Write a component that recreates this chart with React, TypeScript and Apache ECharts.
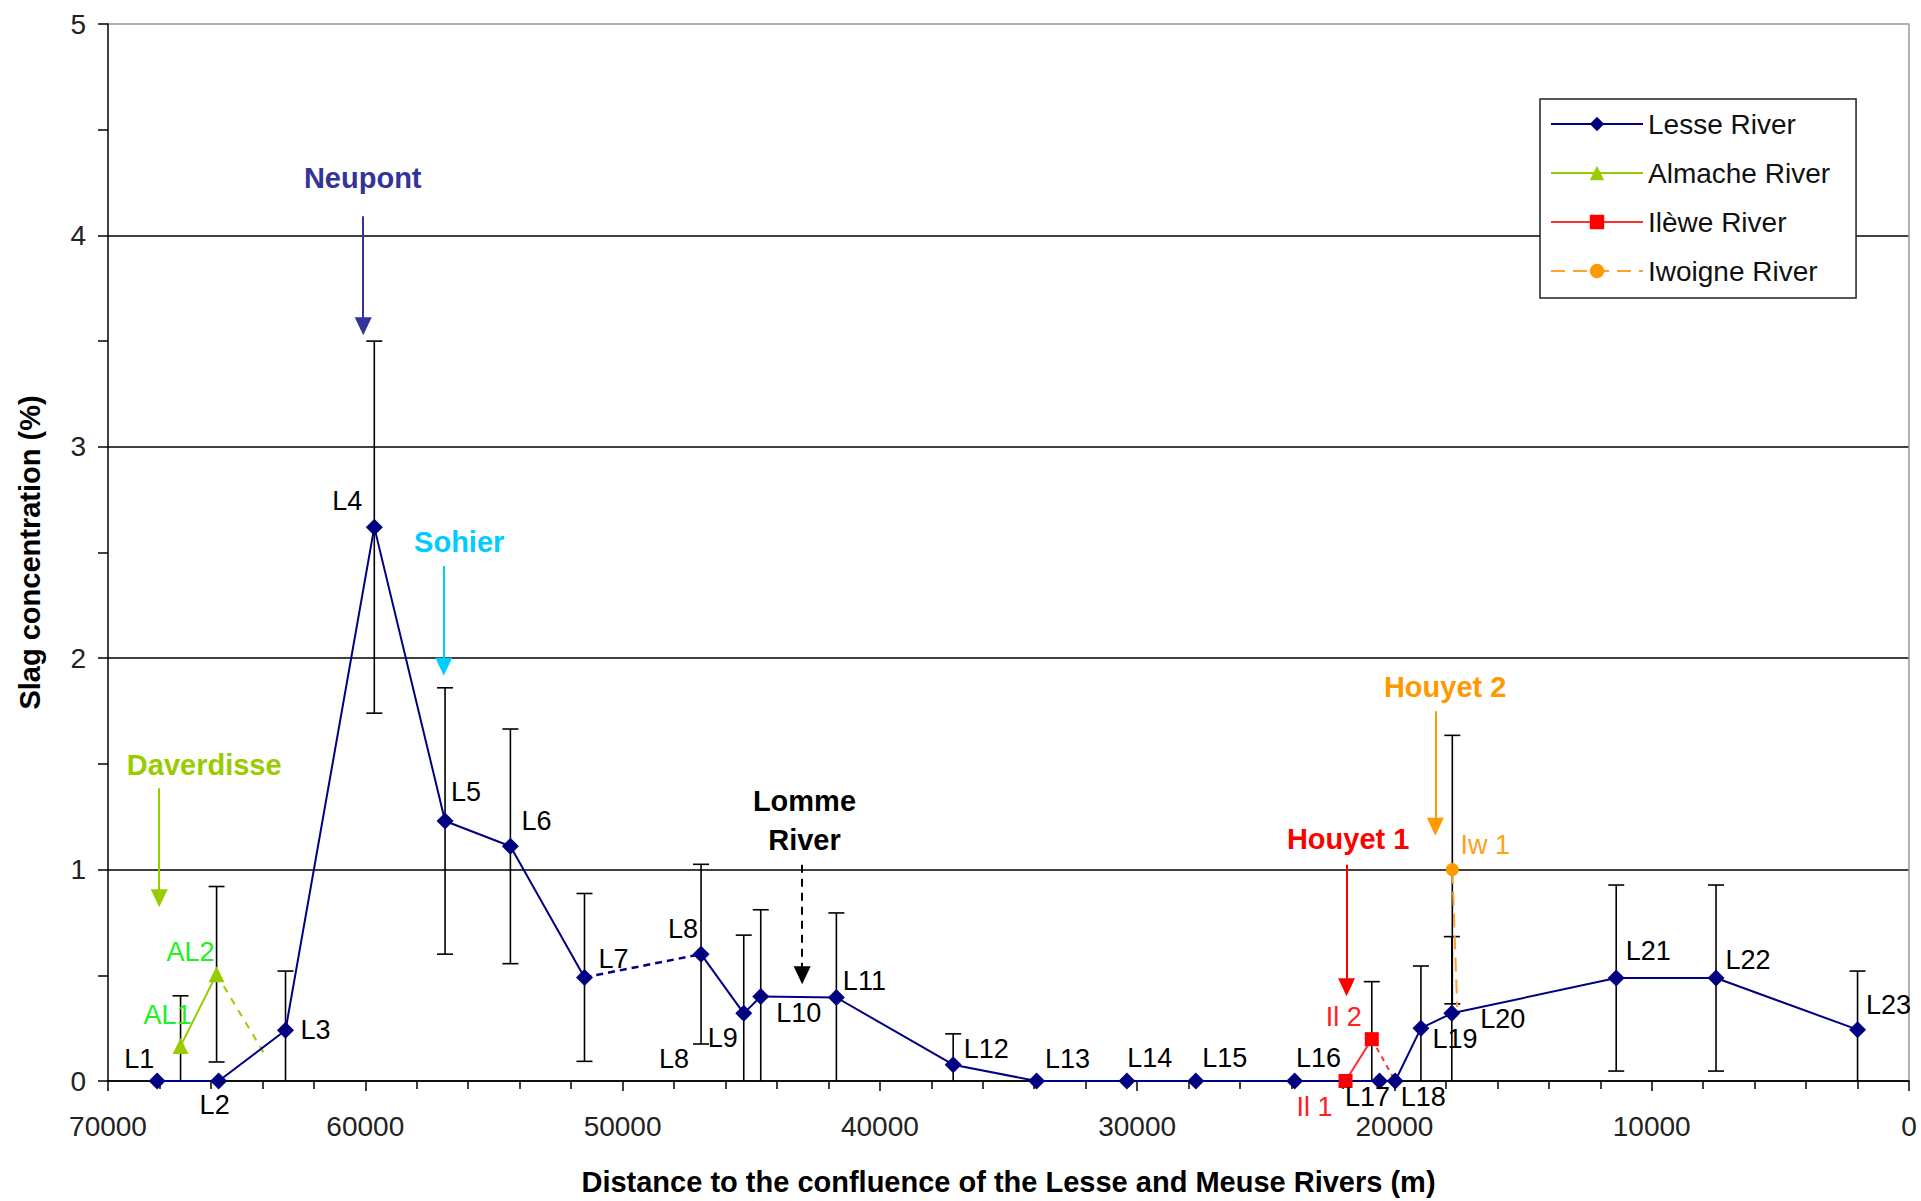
import React, { useEffect, useRef } from "react";
import * as echarts from "echarts";

// ---------- data ----------
const lesseNames = ["L1","L2","L3","L4","L5","L6","L7","L8","L9","L10","L11","L12","L13","L14","L15","L16","L17","L18","L19","L20","L21","L22","L23"];
const lesseDist = [68090, 65700, 63100, 59650, 56900, 54360, 51480, 46950, 45290, 44630, 41690, 37150, 33910, 30400, 27720, 23880, 20580, 19970, 18970, 17770, 11380, 7500, 2000];
const lesseSlag = [0, 0, 0.24, 2.62, 1.23, 1.11, 0.49, 0.6, 0.32, 0.4, 0.395, 0.077, 0, 0, 0, 0, 0, 0, 0.25, 0.32, 0.487, 0.487, 0.243];
const lesseErr = [null, null, 0.28, 0.88, 0.63, 0.555, 0.397, 0.425, 0.37, 0.41, 0.4, 0.146, null, null, null, null, null, null, 0.294, 0.363, 0.44, 0.44, 0.277];

const almacheNames = ["AL1", "AL2"];
const almacheDist = [67180, 65780];
const almacheSlag = [0.165, 0.505];
const almacheErr = [0.238, 0.415];
const almacheJoin = [63950, 0.135];

const ileweNames = ["Il 1", "Il 2"];
const ileweDist = [21900, 20880];
const ileweSlag = [0, 0.198];
const ileweErr = [null, 0.272];
const ileweJoin = [19970, 0];

const iwoigneNames = ["Iw 1"];
const iwoigneDist = [17750];
const iwoigneSlag = [1.0];
const iwoigneErr = [0.635];
const iwoigneJoin = [17560, 0.35];

const noteTexts = ["Neupont", "Sohier", "Daverdisse", "Lomme\nRiver", "Houyet 1", "Houyet 2"];
const noteX = [60100, 56350, 66260, 42930, 21800, 18030];
const noteY = [4.27, 2.55, 1.495, 1.23, 1.147, 1.865];
const arrowX = [60080, 56950, 68010, 43020, 21860, 18410];
const arrowFrom = [4.09, 2.436, 1.385, 1.023, 1.023, 1.749];
const arrowTo = [3.57, 1.96, 0.864, 0.5, 0.444, 1.203];

const strayLabel = "L8";
const strayPos = [48000, 0.105];

const xTicks = { min: 0, max: 70000, interval: 10000 };
const yTicks = { min: 0, max: 5, interval: 0.5 };

// ---------- styles ----------
const FONT = "'Liberation Sans', Arial, sans-serif";
const LESSE = "#000080";
const ALM = "#99CC00";
const ILE = "#FF0000";
const IWO = "#FF9900";
const noteColors = ["#333399", "#00CCFF", "#99CC00", "#000000", "#FF0000", "#FF9900"];
const arrowDash = [false, false, false, true, false, false];
const ySplitColors = ["#000", "transparent", "#000", "transparent", "#000", "transparent", "#000", "transparent", "#000", "transparent", "#999"];

const lesseLabelOffset = [[-18,-22],[-4,24],[30,0],[-27,-26],[21,-29],[26,-25],[29,-18],[-18,-25],[-21,25],[38,17],[28,-16],[33,-16],[31,-22],[23,-23],[29,-23],[24,-23],[-12,16],[28,16],[34,11],[51,6],[32,-27],[32,-18],[31,-25]];
const almacheLabelOffset = [[-13,-31],[-26,-22]];
const ileweLabelOffset = [[-31,26],[-28,-22]];
const iwoigneLabelOffset = [[33,-25]];

function pointLabel(text: string, off: number[], color: string) {
  return {
    show: true,
    position: "inside",
    offset: off,
    formatter: text,
    color,
    fontSize: 27,
    fontFamily: FONT,
    align: "center",
    verticalAlign: "middle",
  };
}

function pts(names: string[], dist: number[], slag: number[], offs: number[][], color: string) {
  return dist.map((d, i) => ({ value: [d, slag[i]], label: pointLabel(names[i], offs[i], color) }));
}

function errRows() {
  const rows: number[][] = [];
  const add = (dist: number[], slag: number[], err: (number | null)[]) => {
    dist.forEach((d, i) => {
      const e = err[i];
      if (e == null) return;
      rows.push([d, Math.max(0, slag[i] - e), slag[i] + e]);
    });
  };
  add(lesseDist, lesseSlag, lesseErr);
  add(almacheDist, almacheSlag, almacheErr);
  add(ileweDist, ileweSlag, ileweErr);
  add(iwoigneDist, iwoigneSlag, iwoigneErr);
  return rows;
}

export default function App() {
  const ref = useRef<HTMLDivElement>(null);
  useEffect(() => {
    document.body.style.margin = "0";
    const chart = echarts.init(ref.current!, null, { renderer: "svg" });

    const lesseAll = pts(lesseNames, lesseDist, lesseSlag, lesseLabelOffset, "#000");
    const lesseA = lesseAll.slice(0, 7);
    const lesseB = lesseAll.slice(7);
    const lesseDash = [[lesseDist[6], lesseSlag[6]], [lesseDist[7], lesseSlag[7]]];

    const almPts = pts(almacheNames, almacheDist, almacheSlag, almacheLabelOffset, "#22EE22");
    const ilePts = pts(ileweNames, ileweDist, ileweSlag, ileweLabelOffset, "#FF2020");
    const iwoPts = pts(iwoigneNames, iwoigneDist, iwoigneSlag, iwoigneLabelOffset, "#FFA020");

    const noteData: any[] = noteTexts.map((t, i) => ({
      value: [noteX[i], noteY[i]],
      label: {
        show: true,
        position: "inside",
        formatter: t,
        color: noteColors[i],
        fontSize: 29,
        fontWeight: "bold",
        fontFamily: FONT,
        lineHeight: 39,
        align: "center",
        verticalAlign: "middle",
      },
    }));
    noteData.push({
      value: strayPos,
      label: {
        show: true, position: "inside", formatter: strayLabel, color: "#000", fontSize: 27,
        fontWeight: "normal", fontFamily: FONT, lineHeight: 30, align: "center", verticalAlign: "middle",
      },
    });

    const arrows = arrowX.map((x, i) => {
      const ls = { color: noteColors[i], width: 2, type: arrowDash[i] ? [8, 6] : "solid", opacity: 1 };
      return [
        { coord: [x, arrowFrom[i]], lineStyle: ls },
        { coord: [x, arrowTo[i]], lineStyle: ls },
      ];
    });

    const lineBase = (name: string, color: string, symbol: string, size: number) => ({
      type: "line",
      name,
      symbol,
      symbolSize: size,
      showAllSymbol: true,
      itemStyle: { color },
      lineStyle: { color, width: 2 },
      z: 3,
      silent: true,
    });

    const option: any = {
      animation: false,
      backgroundColor: "#fff",
      textStyle: { fontFamily: FONT },
      grid: { left: 108, right: 12, top: 24, bottom: 110 },
      legend: {
        data: ["Lesse River", "Almache River", "Ilèwe River", "Iwoigne River"],
        orient: "vertical",
        left: 1540,
        top: 99,
        backgroundColor: "#fff",
        borderColor: "#222",
        borderWidth: 1.5,
        borderRadius: 0,
        padding: [10, 26, 12, 10],
        itemWidth: 92,
        itemHeight: 18,
        itemGap: 19,
        textStyle: { fontSize: 28, lineHeight: 30, color: "#111", fontFamily: FONT },
        selectedMode: false,
      },
      xAxis: {
        type: "value",
        inverse: true,
        min: xTicks.min,
        max: xTicks.max,
        interval: xTicks.interval,
        name: "Distance to the confluence of the Lesse and Meuse Rivers (m)",
        nameLocation: "middle",
        nameGap: 86,
        nameTextStyle: { fontSize: 29, fontWeight: "bold", color: "#000", fontFamily: FONT },
        axisLine: { onZero: false, lineStyle: { color: "#000", width: 1.5 } },
        axisTick: { show: true, length: 10, lineStyle: { color: "#000", width: 1.5 } },
        minorTick: { show: true, splitNumber: 5, length: 8, lineStyle: { color: "#000", width: 1.5 } },
        axisLabel: { fontSize: 28, color: "#222", margin: 31, fontFamily: FONT, formatter: (v: number) => String(v) },
        splitLine: { show: false },
      },
      yAxis: [
        {
          type: "value",
          position: "left",
          min: yTicks.min,
          max: yTicks.max,
          interval: yTicks.interval,
          name: "Slag concentration (%)",
          nameLocation: "middle",
          nameGap: 64,
          nameTextStyle: { fontSize: 29, fontWeight: "bold", color: "#000", fontFamily: FONT },
          axisLine: { show: true, onZero: false, lineStyle: { color: "#000", width: 1.5 } },
          axisTick: { show: true, inside: false, length: 10, lineStyle: { color: "#000", width: 1.5 } },
          minorTick: { show: false },
          axisLabel: {
            fontSize: 28, color: "#222", margin: 22, fontFamily: FONT,
            formatter: (v: number) => (Math.abs(v - Math.round(v)) < 1e-9 ? String(Math.round(v)) : ""),
          },
          splitLine: { show: true, lineStyle: { color: ySplitColors, width: 1.5 } },
        },
        {
          type: "value",
          position: "right",
          min: yTicks.min,
          max: yTicks.max,
          interval: yTicks.interval,
          axisLine: { show: true, onZero: false, lineStyle: { color: "#999", width: 1.5 } },
          axisTick: { show: false },
          minorTick: { show: false },
          axisLabel: { show: false },
          splitLine: { show: false },
        },
      ],
      series: [
        { ...lineBase("Lesse River", LESSE, "diamond", 17), data: lesseA },
        { ...lineBase("Almache River", ALM, "triangle", 16), data: almPts },
        { ...lineBase("Ilèwe River", ILE, "rect", 14), lineStyle: { color: "#FF3030", width: 2 }, data: ilePts },
        {
          ...lineBase("Iwoigne River", IWO, "circle", 13),
          lineStyle: { color: "#FFA030", width: 2, type: [14, 8] },
          data: [...iwoPts, { value: iwoigneJoin, symbol: "none", label: { show: false } }],
        },
        { ...lineBase("Lesse River", LESSE, "diamond", 17), data: lesseB },
        { ...lineBase("Lesse River", LESSE, "none", 0), lineStyle: { color: LESSE, width: 2.5, type: [7, 5] }, data: lesseDash, z: 2 },
        { ...lineBase("Almache River", ALM, "none", 0), lineStyle: { color: ALM, width: 2, type: [7, 7] }, data: [[almacheDist[1], almacheSlag[1]], almacheJoin], z: 2 },
        { ...lineBase("Ilèwe River", ILE, "none", 0), lineStyle: { color: "#FF3030", width: 2, type: [5, 5] }, data: [[ileweDist[1], ileweSlag[1]], ileweJoin], z: 2 },
        {
          type: "custom",
          name: "errors",
          silent: true,
          z: 1,
          encode: { x: 0, y: [1, 2] },
          data: errRows(),
          renderItem: (params: any, api: any) => {
            const x = api.value(0);
            const lo = api.value(1);
            const hi = api.value(2);
            const top = api.coord([x, hi]);
            const bot = api.coord([x, lo]);
            const hw = 8;
            const style = { stroke: "#000", lineWidth: 1.6, fill: "none" };
            const children: any[] = [
              { type: "line", shape: { x1: top[0], y1: top[1], x2: bot[0], y2: bot[1] }, style },
              { type: "line", shape: { x1: top[0] - hw, y1: top[1], x2: top[0] + hw, y2: top[1] }, style },
            ];
            if (lo > 0) {
              children.push({ type: "line", shape: { x1: bot[0] - hw, y1: bot[1], x2: bot[0] + hw, y2: bot[1] }, style });
            }
            return { type: "group", children };
          },
        },
        {
          type: "scatter",
          name: "notes",
          symbolSize: 0.1,
          itemStyle: { color: "transparent", opacity: 1 },
          silent: true,
          z: 5,
          data: noteData,
          markLine: {
            silent: true,
            symbol: ["none", "triangle"],
            symbolSize: [17, 18],
            label: { show: false },
            data: arrows,
          },
        },
      ],
    };
    chart.setOption(option);
    return () => chart.dispose();
  }, []);
  return <div ref={ref} style={{ position: "fixed", left: 0, top: 0, width: "1921px", height: "1201px" }} />;
}
